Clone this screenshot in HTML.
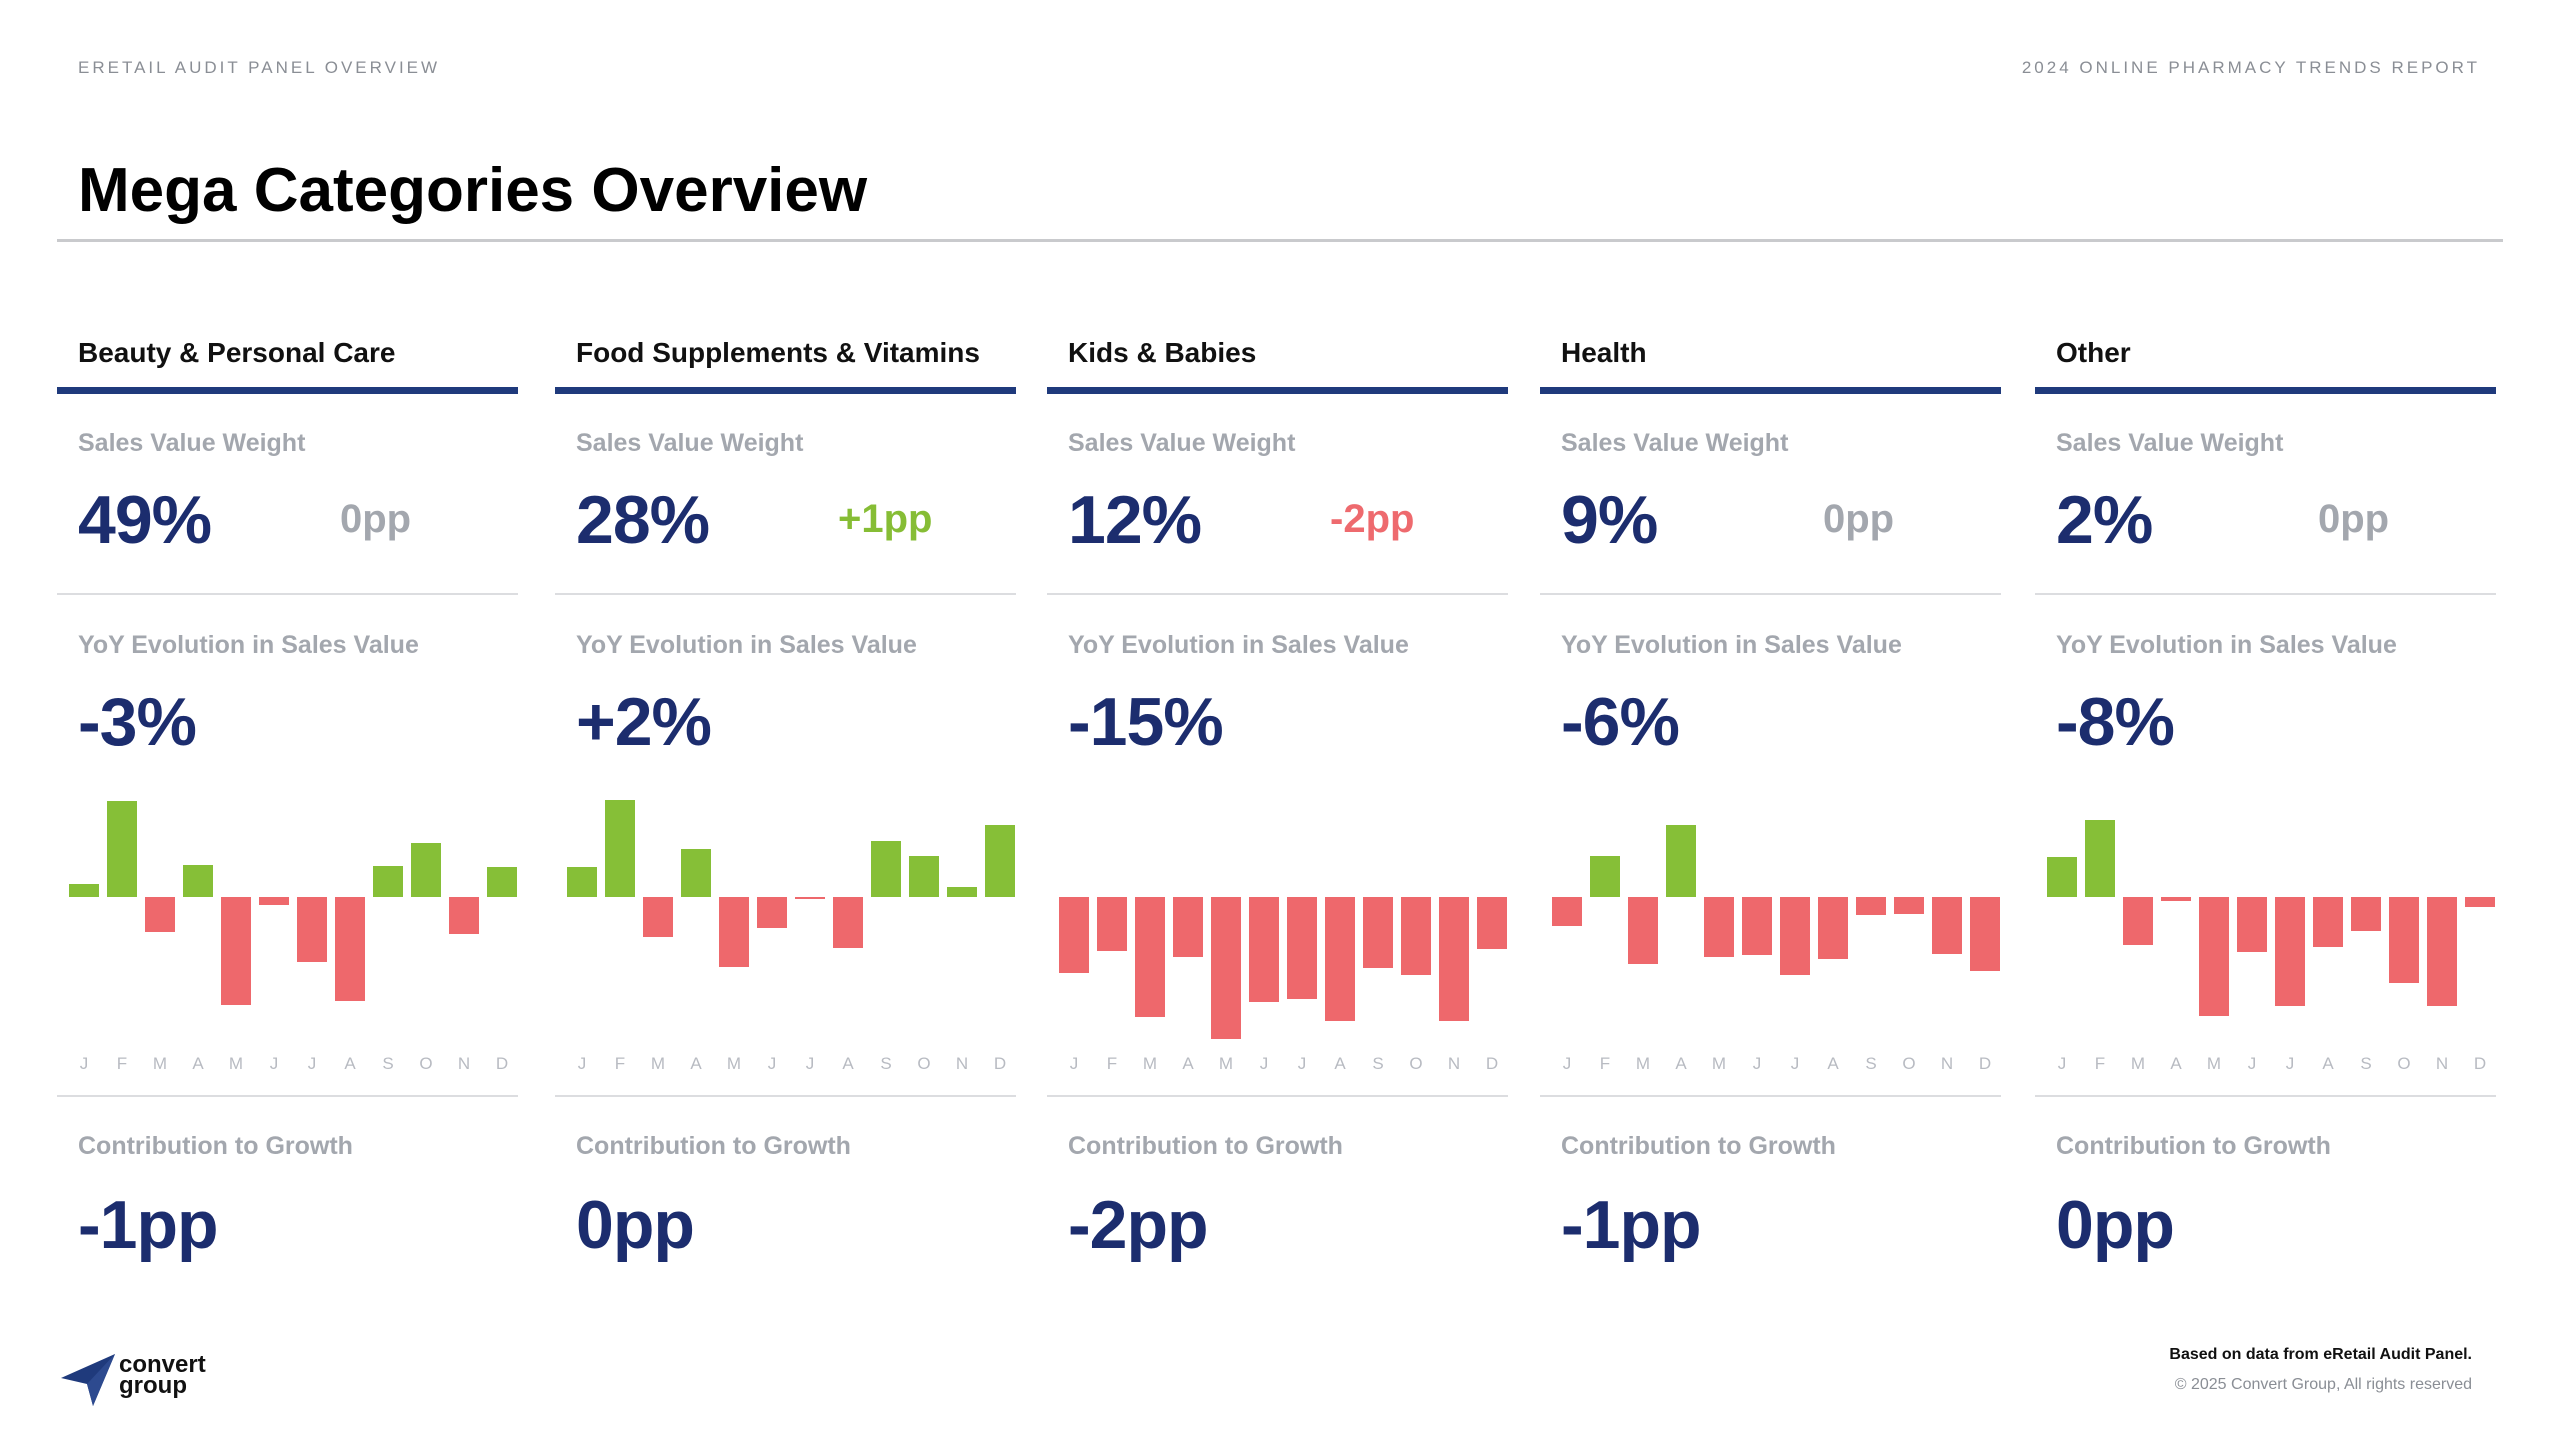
<!DOCTYPE html>
<html><head><meta charset="utf-8"><style>
body{margin:0;width:2560px;height:1440px;background:#fff;font-family:"Liberation Sans",Arial,sans-serif;position:relative;overflow:hidden}
.abs{position:absolute;white-space:nowrap}
.hdr{font-size:17px;letter-spacing:3px;color:#8a8e95;top:58px}
.col{position:absolute;top:0;width:461px;height:1300px}
.cat{position:absolute;left:21px;top:337px;font-size:28px;font-weight:bold;color:#111}
.navy{position:absolute;left:0;top:387px;width:461px;height:7px;background:#1f3a7c}
.lbl{position:absolute;left:21px;font-size:25px;font-weight:bold;color:#a3a7ae}
.big{position:absolute;left:21px;font-size:68px;font-weight:bold;color:#1c2d6e;letter-spacing:-1px}
.pp{position:absolute;left:283px;top:497px;font-size:40px;font-weight:bold}
.div{position:absolute;left:0;width:461px;height:2px;background:#dcdde0}
</style></head><body>
<div class="abs hdr" style="left:78px">ERETAIL AUDIT PANEL OVERVIEW</div>
<div class="abs hdr" style="right:80px">2024 ONLINE PHARMACY TRENDS REPORT</div>
<div class="abs" style="left:78px;top:155px;font-size:62px;font-weight:bold;color:#000">Mega Categories Overview</div>
<div class="abs" style="left:57px;top:239px;width:2446px;height:3px;background:#c9cacd"></div>
<div id="cols"></div>
<div class="abs" style="left:59px;top:1352px">
<svg width="60" height="56" viewBox="0 0 60 56"><path d="M2 26 L56 2 L34 54 L28 32 Z" fill="#1f3a7c"/><path d="M28 32 L56 2 L34 54Z" fill="#2d4a8f"/></svg>
<div class="abs" style="left:60px;top:2px;font-size:24px;font-weight:bold;line-height:21px;color:#111">convert<br>group</div></div>
<div class="abs" style="right:88px;top:1346px;font-size:16px;font-weight:bold;color:#111">Based on data from eRetail Audit Panel.</div>
<div class="abs" style="right:88px;top:1376px;font-size:16px;color:#8a8e95">© 2025 Convert Group, All rights reserved</div>
<script>
const categories=["Beauty & Personal Care","Food Supplements & Vitamins","Kids & Babies","Health","Other"];
const weights=["49%","28%","12%","9%","2%"];
const weightChanges=["0pp","+1pp","-2pp","0pp","0pp"];
const yoy=["-3%","+2%","-15%","-6%","-8%"];
const contributions=["-1pp","0pp","-2pp","-1pp","0pp"];
const months=["J","F","M","A","M","J","J","A","S","O","N","D"];
const beautyMonthly=[13,96,-35,32,-108,-8,-65,-104,31,54,-37,30];
const foodMonthly=[30,97,-40,48,-70,-31,-1,-51,56,41,10,72];
const kidsMonthly=[-76,-54,-120,-60,-142,-105,-102,-124,-71,-78,-124,-52];
const healthMonthly=[-29,41,-67,72,-60,-58,-78,-62,-18,-17,-57,-74];
const otherMonthly=[40,77,-48,-4,-119,-55,-109,-50,-34,-86,-109,-10];
const series=[beautyMonthly,foodMonthly,kidsMonthly,healthMonthly,otherMonthly];
const lefts=[57,555,1047,1540,2035];
const NS="http://www.w3.org/2000/svg";
const root=document.getElementById('cols');
const slug=s=>s.toLowerCase().replace(/[^a-z]+/g,'-');
categories.forEach((c,i)=>{
 const col=document.createElement('div');col.className='col';col.style.left=lefts[i]+'px';
 
 
 const ch=weightChanges[i];
 const chColor=ch.startsWith('+')?'#86bd35':ch.startsWith('-')?'#ee6a6e':'#a3a7ae';
 col.innerHTML=`<div class="cat"></div>
<div class="navy"></div>
<div class="lbl" style="top:429px">Sales Value Weight</div>
<div class="big" style="top:481px">${weights[i]}</div>
<div class="pp" style="color:${chColor}">${ch}</div>
<div class="div" style="top:593px"></div>
<div class="lbl" style="top:631px">YoY Evolution in Sales Value</div>
<div class="big" style="top:683px">${yoy[i]}</div>
<div class="div" style="top:1095px"></div>
<div class="lbl" style="top:1132px">Contribution to Growth</div>
<div class="big" style="top:1186px">${contributions[i]}</div>`;
 col.querySelector('.cat').textContent=c;
 const svg=document.createElementNS(NS,'svg');
 svg.setAttribute('width','461');svg.setAttribute('height','300');
 svg.style.position='absolute';svg.style.left='0';svg.style.top='780px';
 
 
 const base=117, x0=12, pitch=38, bw=30;
 const xS=k=>x0+k*pitch;
 const yS=v=>base-v;
 series[i].forEach((v,k)=>{
  const r=document.createElementNS(NS,'rect');
  r.setAttribute('x',xS(k));r.setAttribute('width',bw);
  r.setAttribute('y',Math.min(yS(v),base));r.setAttribute('height',Math.max(Math.abs(v),2));
  r.setAttribute('fill',v>=0?'#86bf37':'#ee686c');
  
  
  svg.appendChild(r);
  const t=document.createElementNS(NS,'text');
  t.setAttribute('x',xS(k)+bw/2);t.setAttribute('y',289);
  t.setAttribute('text-anchor','middle');t.setAttribute('font-size','17');t.setAttribute('fill','#b8bbc2');
  t.setAttribute('font-family','Liberation Sans, sans-serif');
  t.textContent=months[k];
  
  
  svg.appendChild(t);
 });
 col.appendChild(svg);
 root.appendChild(col);
});
</script>
</body></html>
